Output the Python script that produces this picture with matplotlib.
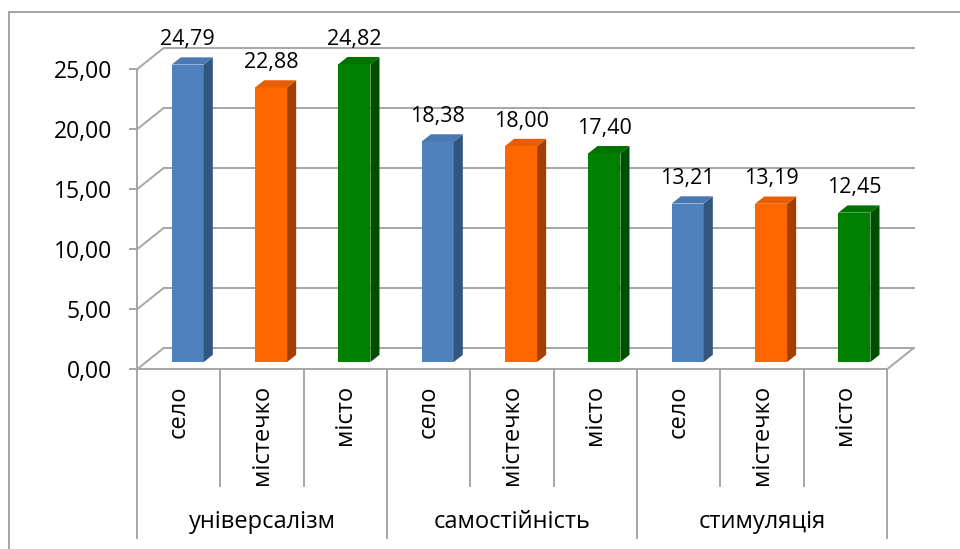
import matplotlib
matplotlib.use("Agg")
import matplotlib.pyplot as plt
from matplotlib.patches import Polygon, Rectangle
from matplotlib.transforms import blended_transform_factory

plt.rcParams['font.family'] = ['Open Sans', 'DejaVu Sans']

# ---- data ----
groups = ["універсалізм", "самостійність", "стимуляція"]
places = ["село", "містечко", "місто"]
universalism = [24.79, 22.88, 24.82]
independence = [18.38, 18.00, 17.40]
stimulation = [13.21, 13.19, 12.45]
y_ticks = [0, 5, 10, 15, 20, 25]

series = [universalism, independence, stimulation]

# ---- style ----
front_colors = ["#4f81bd", "#ff6600", "#008000"]
top_colors = ["#4a78b2", "#e85d00", "#007200"]
side_colors = ["#33567f", "#a33f00", "#004f00"]
grid_color = "#a6a6a6"
frame_color = "#8c8c8c"

W, H = 960, 549
fig = plt.figure(figsize=(W / 100, H / 100), dpi=100)

# outer chart border
fig.patches.append(Rectangle((8.5 / W, -0.01), 1.1, 1 - 11.5 / H + 0.01,
                             transform=fig.transFigure, fill=False,
                             edgecolor=frame_color, lw=1.1))

x0, x1 = 137, 887          # front plane, pixels
y_top, y_bot = 69.3, 369.3
ax = fig.add_axes([x0 / W, 1 - y_bot / H, (x1 - x0) / W, (y_bot - y_top) / H])
n = len(groups) * len(places)
ax.set_xlim(0, n)
ax.set_ylim(0, 25)
ax.patch.set_visible(False)

# 3D depth offset of the back wall, in data units
DX = 26.7 / ((x1 - x0) / n)
DY = 21.3 / ((y_bot - y_top) / 25)

# walls and floor
for v in y_ticks:
    ax.plot([0, DX], [v, v + DY], color=grid_color, lw=1.4, clip_on=False, zorder=1)
    ax.plot([DX, n + DX], [v + DY, v + DY], color=grid_color, lw=1.4,
            clip_on=False, zorder=1)
ax.plot([0, n], [0, 0], color=grid_color, lw=1.4, clip_on=False, zorder=1)
ax.plot([n, n + DX], [0, DY], color=grid_color, lw=1.4, clip_on=False, zorder=1)

# bars
bar_w = 0.384
d_front, d_back = 0.34, 0.68
k = 0
for gi, vals in enumerate(series):
    for pi, v in enumerate(vals):
        c = k + 0.5
        fx = d_front * DX
        fy = d_front * DY
        bx = (d_back - d_front) * DX
        by = (d_back - d_front) * DY
        xl, xr = c - bar_w / 2 + fx, c + bar_w / 2 + fx
        yb, yt = fy, fy + v
        ax.add_patch(Polygon([(xl, yb), (xr, yb), (xr, yt), (xl, yt)],
                             closed=True, facecolor=front_colors[pi],
                             edgecolor="none", clip_on=False, zorder=3))
        ax.add_patch(Polygon([(xr, yb), (xr + bx, yb + by), (xr + bx, yt + by), (xr, yt)],
                             closed=True, facecolor=side_colors[pi],
                             edgecolor="none", clip_on=False, zorder=3))
        ax.add_patch(Polygon([(xl, yt), (xr, yt), (xr + bx, yt + by), (xl + bx, yt + by)],
                             closed=True, facecolor=top_colors[pi],
                             edgecolor="none", clip_on=False, zorder=3))
        ax.annotate(f"{v:.2f}".replace(".", ","), xy=(c + fx, yt),
                    xytext=(0, 18), textcoords="offset points",
                    ha="center", va="center", fontsize=15.5, zorder=4,
                    annotation_clip=False)
        k += 1

# y axis
for s in ["top", "right", "bottom"]:
    ax.spines[s].set_visible(False)
ax.spines["left"].set_color(grid_color)
ax.spines["left"].set_linewidth(1.4)
ax.set_xticks([])
ax.set_yticks(y_ticks)
ax.set_yticklabels([f"{t:.2f}".replace(".", ",") for t in y_ticks])
ax.tick_params(axis="y", direction="out", length=6, width=1.4, color=grid_color,
               labelsize=16.5, pad=12)

# hierarchical category axis
tr = blended_transform_factory(ax.transData, fig.transFigure)
def fy_(py):
    return 1 - py / H

for i in range(n + 1):
    bottom = 538 if i % len(places) == 0 else 486
    ax.plot([i, i], [fy_(y_bot), fy_(bottom)], transform=tr, color=grid_color,
            lw=1.4, clip_on=False)
for i in range(n):
    ax.text(i + 0.5, fy_(385), places[i % len(places)], transform=tr,
            rotation=90, ha="center", va="top", fontsize=17)
for gi, g in enumerate(groups):
    ax.text(gi * len(places) + len(places) / 2, fy_(522), g, transform=tr,
            ha="center", va="center", fontsize=17)

fig.savefig("out.png", dpi=100)
